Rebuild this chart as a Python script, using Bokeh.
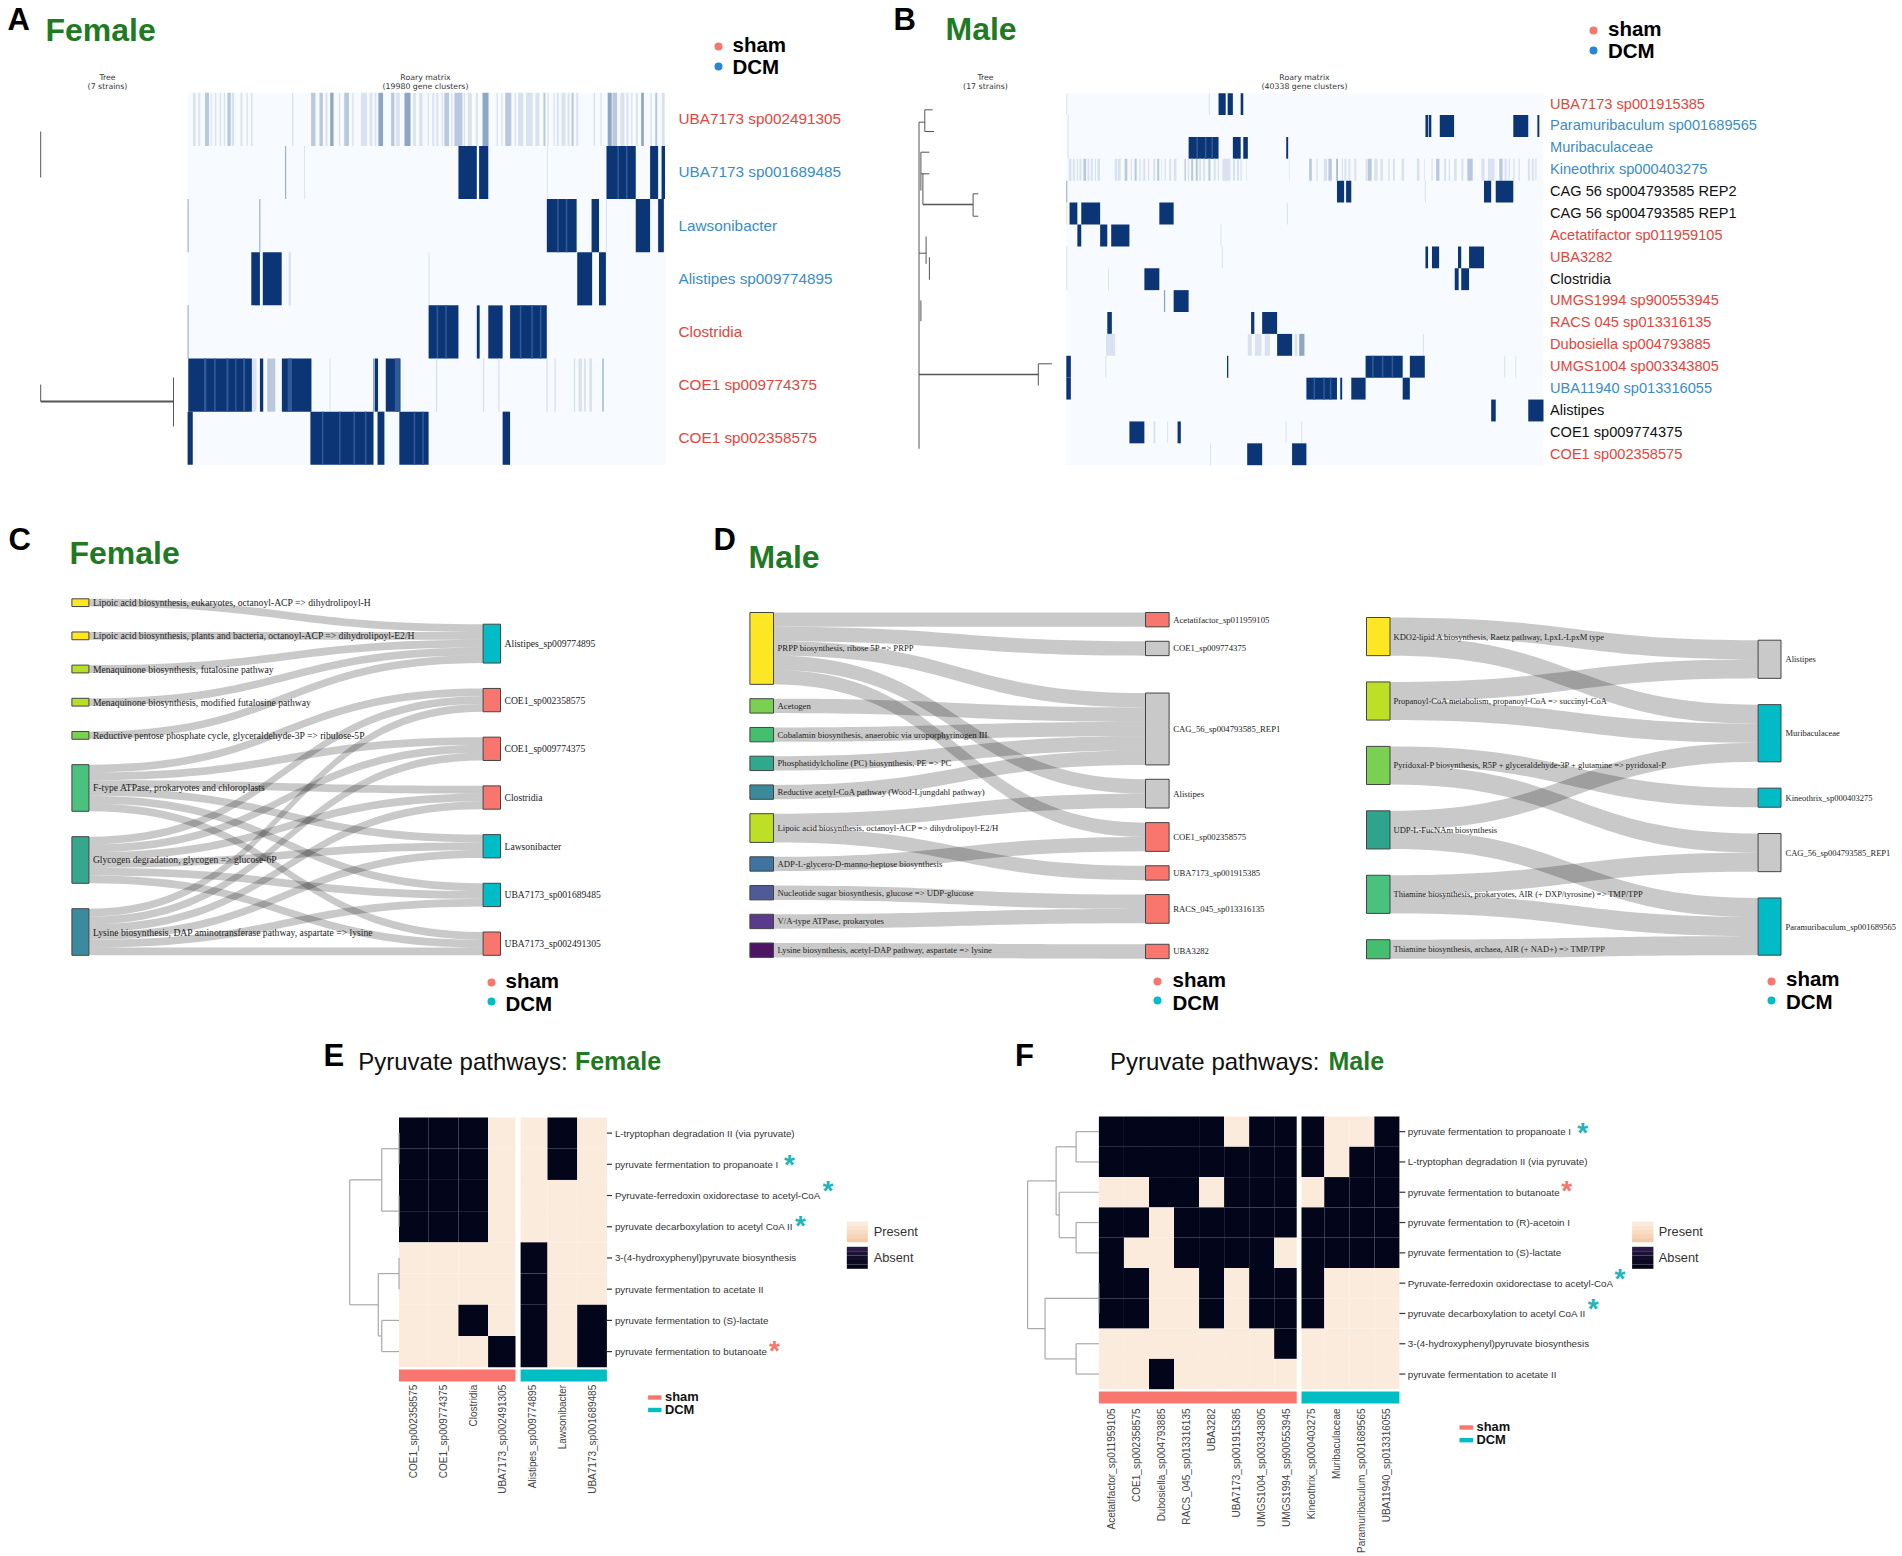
from math import pi
import numpy as np
from bokeh.core.properties import value
from bokeh.embed import file_html
from bokeh.models import Range1d
from bokeh.plotting import figure
from bokeh.resources import INLINE

# ---------------------------------------------------------------- data: Roary matrices
# Each row: dark blocks (first, last gene cluster) and pale stripes (first, last, level)
A_CLUSTERS = 19980
A_STRAINS = ["UBA7173 sp002491305", "UBA7173 sp001689485", "Lawsonibacter", "Alistipes sp009774895",
             "Clostridia", "COE1 sp009774375", "COE1 sp002358575"]
A_GROUP = ["sham", "DCM", "DCM", "DCM", "sham", "sham", "sham"]
A_DARK = [
    [],
    [(11328, 12096), (12192, 12576), (17520, 18744), (19344, 19680), (19824, 19968)],
    [(15024, 16272), (16896, 17208), (18744, 19344), (19680, 19920)],
    [(2664, 3024), (3144, 3936), (16296, 16920), (17208, 17496)],
    [(10080, 11328), (12096, 12216), (12576, 13176), (13488, 15024)],
    [(28, 2688), (3024, 3164), (3948, 5180), (7826, 7966), (8288, 8904)],
    [(0, 216), (5136, 7776), (7944, 8232), (8856, 10080), (13176, 13488)],
]
A_PALE = [
    [(224, 336, 1), (448, 532, 1), (728, 896, 2), (966, 1008, 1), (1148, 1204, 1), (1344, 1400, 1), (1512, 1568, 1),
     (1666, 1806, 2), (1848, 1946, 1), (2212, 2296, 1), (2464, 2520, 1), (2646, 2716, 1), (4368, 4424, 1),
     (5166, 5348, 2), (5516, 5656, 2), (5768, 5852, 1), (5964, 6104, 3), (6328, 6384, 1), (6552, 6748, 2),
     (6888, 6944, 1), (7252, 7504, 1), (7616, 7728, 1), (7826, 7896, 1), (7980, 8176, 3), (8512, 8652, 2),
     (8708, 8876, 1), (9072, 9324, 3), (9436, 9548, 1), (9688, 9828, 1), (10039, 10095, 1), (10235, 10319, 1),
     (10403, 10487, 1), (10627, 10683, 1), (10739, 10935, 2), (11019, 11075, 1), (11159, 11495, 2),
     (11551, 11607, 1), (11719, 11887, 1), (12055, 12139, 1), (12335, 12587, 3), (12923, 12979, 1),
     (13119, 13175, 1), (13287, 13539, 2), (13679, 13735, 1), (13819, 14043, 1), (14155, 14435, 1),
     (14547, 14715, 1), (14883, 14967, 2), (15051, 15107, 1), (15303, 15359, 1), (15443, 15527, 1),
     (15639, 15807, 1), (15891, 15975, 1), (16059, 16143, 2), (16255, 16339, 1), (16983, 17039, 1),
     (17263, 17319, 1), (17571, 17739, 3), (17767, 17963, 2), (18103, 18271, 1), (18355, 18439, 1),
     (18551, 18607, 1), (18747, 18831, 1), (18971, 19083, 3), (19363, 19419, 1), (19559, 19643, 2),
     (19839, 19951, 1)],
    [(4080, 4122, 3), (4872, 4914, 1), (15024, 15066, 1)],
    [(0, 42, 3), (3000, 3042, 3), (17496, 17538, 1)],
    [(4224, 4320, 1), (10080, 10122, 1)],
    [(0, 42, 3)],
    [(2688, 2884, 1), (3332, 3668, 2), (3906, 3976, 1), (5936, 5978, 1), (7756, 7812, 3), (10388, 10444, 1),
     (12348, 12404, 1), (12992, 13048, 1), (15008, 15064, 1), (15344, 15400, 1), (16156, 16212, 1),
     (16352, 16492, 1), (16576, 16660, 1), (16800, 16912, 1), (17332, 17416, 2)],
    [],
]
# lighter gene clusters seen inside the dark blocks: row -> (first, last)
A_STREAKS = {
    1: [(17976, 18040), (18336, 18400)],
    2: [(15456, 15520), (15816, 15880)],
    4: [(10416, 10480), (10776, 10840), (13896, 13960), (14376, 14440), (14736, 14800)],
    5: [(686, 784), (1106, 1176), (1624, 1708), (1988, 2044), (2324, 2408), (4186, 4368), (8666, 8876)],
    6: [(5616, 5680), (6336, 6400), (6936, 7000), (7416, 7480), (9456, 9520), (9816, 9880)],
}

B_CLUSTERS = 40338
B_STRAINS = ["UBA7173 sp001915385", "Paramuribaculum sp001689565", "Muribaculaceae", "Kineothrix sp000403275",
             "CAG 56 sp004793585 REP2", "CAG 56 sp004793585 REP1", "Acetatifactor sp011959105", "UBA3282",
             "Clostridia", "UMGS1994 sp900553945", "RACS 045 sp013316135", "Dubosiella sp004793885",
             "UMGS1004 sp003343805", "UBA11940 sp013316055", "Alistipes", "COE1 sp009774375", "COE1 sp002358575"]
B_GROUP = ["sham", "DCM", "DCM", "DCM", "none", "none", "sham", "sham", "none", "sham", "sham", "sham", "sham",
           "DCM", "none", "none", "sham"]
B_DARK = [
    [(12870, 13475), (13640, 14080), (14740, 14960)],
    [(30360, 30580), (30635, 30855), (31570, 32780), (37785, 39050), (39820, 39985)],
    [(10340, 12870), (14080, 14740), (14960, 15345), (18590, 18755)],
    [],
    [(22880, 23485), (23650, 24090), (35310, 35915), (36300, 37785)],
    [(275, 935), (1265, 2860), (7865, 9075)],
    [(935, 1265), (2860, 3465), (3795, 5335)],
    [(30360, 30580), (30910, 31515), (33110, 33385), (34045, 35310)],
    [(6600, 7865), (32835, 33165), (33385, 34045)],
    [(9075, 10340)],
    [(3465, 3850), (15620, 15895), (16555, 17820)],
    [(17820, 19085)],
    [(0, 385), (13585, 13695), (25300, 28435), (29040, 30305)],
    [(0, 385), (20295, 22880), (23155, 23320), (24090, 25300), (28435, 29040)],
    [(35915, 36300), (39050, 40338)],
    [(5335, 6600), (9405, 9680)],
    [(15290, 16555), (19085, 20295)],
]
B_PALE = [
    [(0, 84, 1), (12045, 12129, 1)],
    [(110, 194, 1)],
    [(110, 194, 1)],
    [(213, 438, 1), (550, 719, 1), (887, 1000, 1), (1112, 1281, 1), (1449, 1674, 2), (1787, 1955, 1), (2068, 2236, 1),
     (2405, 2517, 1), (2630, 2854, 1), (4091, 4316, 1), (4372, 4597, 1), (4934, 5159, 2), (5440, 5552, 1),
     (5777, 5945, 2), (6170, 6283, 1), (6507, 6676, 1), (6901, 7013, 1), (7350, 7519, 1), (7688, 7856, 2),
     (8025, 8081, 1), (8306, 8418, 1), (8699, 8868, 1), (9093, 9317, 1), (9992, 10104, 2), (10273, 10385, 1),
     (10554, 10722, 2), (10947, 11116, 2), (11228, 11397, 1), (11565, 11734, 1), (12015, 12184, 2),
     (12465, 12633, 1), (12802, 12914, 1), (13195, 13870, 1), (14094, 14263, 1), (14432, 14600, 1),
     (14713, 14825, 1), (15218, 15275, 1), (18815, 18871, 1), (20527, 20752, 2), (21145, 21258, 1),
     (21764, 22045, 1), (22157, 22438, 2), (22831, 22944, 3), (23281, 23393, 1), (23506, 23674, 1),
     (23843, 24012, 1), (24349, 24517, 1), (25304, 25417, 1), (25473, 25810, 2), (26035, 26316, 1),
     (26541, 26765, 1), (27215, 27327, 1), (27608, 27777, 1), (28339, 28564, 1), (29632, 29856, 1),
     (30250, 30306, 1), (30868, 30980, 1), (31261, 31542, 2), (31936, 32104, 1), (32329, 32442, 1),
     (32779, 33004, 1), (33397, 33566, 1), (33903, 34352, 2), (35083, 35364, 1), (35646, 36207, 1),
     (36600, 36881, 2), (37050, 37219, 1), (37387, 37500, 1), (37781, 37893, 1), (38230, 38343, 1),
     (39017, 39186, 1), (39354, 39523, 1), (39635, 39748, 1)],
    [(0, 84, 3), (30305, 30389, 1)],
    [(0, 84, 1), (18645, 18729, 1)],
    [(13035, 13119, 1)],
    [(0, 84, 1), (13145, 13229, 1)],
    [(0, 84, 1), (3520, 3604, 1)],
    [(8250, 8360, 3)],
    [],
    [(3355, 4125, 1), (15345, 15675, 1), (15950, 16500, 1), (16775, 17215, 1), (19305, 19525, 1), (19690, 20130, 3),
     (30140, 30224, 1)],
    [(3300, 3384, 1), (37015, 37099, 1), (37950, 38034, 1)],
    [],
    [],
    [(7370, 7535, 1), (8525, 8609, 1), (18535, 18619, 1), (19855, 19939, 1)],
    [(12155, 12239, 1)],
]
B_STREAKS = {
    2: [(11000, 11130), (11715, 11845), (12265, 12395)],
    12: [(25850, 25980), (26675, 26805), (27500, 27630)],
    13: [(20900, 21030), (21725, 21855), (22275, 22405)],
}

# ---------------------------------------------------------------- data: pathway-to-strain flows
C_SOURCES = ["Lipoic acid biosynthesis, eukaryotes, octanoyl-ACP => dihydrolipoyl-H",
             "Lipoic acid biosynthesis, plants and bacteria, octanoyl-ACP => dihydrolipoyl-E2/H",
             "Menaquinone biosynthesis, futalosine pathway",
             "Menaquinone biosynthesis, modified futalosine pathway",
             "Reductive pentose phosphate cycle, glyceraldehyde-3P => ribulose-5P",
             "F-type ATPase, prokaryotes and chloroplasts",
             "Glycogen degradation, glycogen => glucose-6P",
             "Lysine biosynthesis, DAP aminotransferase pathway, aspartate => lysine"]
C_SOURCE_COLORS = ["#fde725", "#fde725", "#b8de29", "#b8de29", "#7ad151", "#4ac17e", "#35a78e", "#3b8ba0"]
C_TARGETS = ["Alistipes_sp009774895", "COE1_sp002358575", "COE1_sp009774375", "Clostridia", "Lawsonibacter",
             "UBA7173_sp001689485", "UBA7173_sp002491305"]
C_TARGET_GROUP = ["DCM", "sham", "sham", "sham", "DCM", "DCM", "sham"]
C_LINKS = [(0, 0), (1, 0), (2, 0), (3, 0), (4, 0),
           (5, 1), (5, 2), (5, 3), (5, 4), (5, 5), (5, 6),
           (6, 1), (6, 2), (6, 3), (6, 4), (6, 5), (6, 6),
           (7, 1), (7, 2), (7, 3), (7, 4), (7, 5), (7, 6)]

D1_SOURCES = ["PRPP biosynthesis, ribose 5P => PRPP", "Acetogen",
              "Cobalamin biosynthesis, anaerobic via uroporphyrinogen III",
              "Phosphatidylcholine (PC) biosynthesis, PE => PC",
              "Reductive acetyl-CoA pathway (Wood-Ljungdahl pathway)",
              "Lipoic acid biosynthesis, octanoyl-ACP => dihydrolipoyl-E2/H",
              "ADP-L-glycero-D-manno-heptose biosynthesis",
              "Nucleotide sugar biosynthesis, glucose => UDP-glucose",
              "V/A-type ATPase, prokaryotes",
              "Lysine biosynthesis, acetyl-DAP pathway, aspartate => lysine"]
D1_SOURCE_COLORS = ["#fde725", "#7ad151", "#44bf70", "#2fa98c", "#3a8a9c", "#bddf26", "#3f74a0", "#4f5a96",
                    "#5a3a8f", "#4f1565"]
D1_TARGETS = ["Acetatifactor_sp011959105", "COE1_sp009774375", "CAG_56_sp004793585_REP1", "Alistipes",
              "COE1_sp002358575", "UBA7173_sp001915385", "RACS_045_sp013316135", "UBA3282"]
D1_TARGET_GROUP = ["sham", "none", "none", "none", "sham", "sham", "sham", "sham"]
D1_LINKS = [(0, 0), (0, 1), (0, 2), (0, 3), (0, 4), (1, 2), (2, 2), (3, 2), (4, 2), (5, 3), (5, 5), (6, 4),
            (7, 6), (8, 6), (9, 7)]

D2_SOURCES = ["KDO2-lipid A biosynthesis, Raetz pathway, LpxL-LpxM type",
              "Propanoyl-CoA metabolism, propanoyl-CoA => succinyl-CoA",
              "Pyridoxal-P biosynthesis, R5P + glyceraldehyde-3P + glutamine => pyridoxal-P",
              "UDP-L-FucNAm biosynthesis",
              "Thiamine biosynthesis, prokaryotes, AIR (+ DXP/tyrosine) => TMP/TPP",
              "Thiamine biosynthesis, archaea, AIR (+ NAD+) => TMP/TPP"]
D2_SOURCE_COLORS = ["#fde725", "#bddf26", "#7ad151", "#2fa48c", "#4ac17e", "#44bf70"]
D2_TARGETS = ["Alistipes", "Muribaculaceae", "Kineothrix_sp000403275", "CAG_56_sp004793585_REP1",
              "Paramuribaculum_sp001689565"]
D2_TARGET_GROUP = ["none", "DCM", "DCM", "none", "DCM"]
D2_LINKS = [(0, 0), (0, 1), (1, 0), (1, 1), (2, 2), (2, 3), (3, 1), (3, 4), (4, 3), (4, 4), (5, 4)]

# ---------------------------------------------------------------- data: presence / absence heatmaps (1 = absent)
E_COLS = ["COE1_sp002358575", "COE1_sp009774375", "Clostridia", "UBA7173_sp002491305",
          "Alistipes_sp009774895", "Lawsonibacter", "UBA7173_sp001689485"]
E_ROWS = ["L-tryptophan degradation II (via pyruvate)", "pyruvate fermentation to propanoate I",
          "Pyruvate-ferredoxin oxidorectase to acetyl-CoA", "pyruvate decarboxylation to acetyl CoA II",
          "3-(4-hydroxyphenyl)pyruvate biosynthesis", "pyruvate fermentation to acetate II",
          "pyruvate fermentation to (S)-lactate", "pyruvate fermentation to butanoate"]
E_ABSENT = [[1, 1, 1, 0, 0, 1, 0],
            [1, 1, 1, 0, 0, 1, 0],
            [1, 1, 1, 0, 0, 0, 0],
            [1, 1, 1, 0, 0, 0, 0],
            [0, 0, 0, 0, 1, 0, 0],
            [0, 0, 0, 0, 1, 0, 0],
            [0, 0, 1, 0, 1, 0, 1],
            [0, 0, 0, 1, 1, 0, 1]]
E_TREE = (1.0, (0.35, (0.0, 0, 1), (0.0, 2, 3)), (0.42, (0.0, 4, 5), (0.35, 6, 7)))

F_COLS = ["Acetatifactor_sp011959105", "COE1_sp002358575", "Dubosiella_sp004793885", "RACS_045_sp013316135",
          "UBA3282", "UBA7173_sp001915385", "UMGS1004_sp003343805", "UMGS1994_sp900553945",
          "Kineothrix_sp000403275", "Muribaculaceae", "Paramuribaculum_sp001689565", "UBA11940_sp013316055"]
F_ROWS = ["pyruvate fermentation to propanoate I", "L-tryptophan degradation II (via pyruvate)",
          "pyruvate fermentation to butanoate", "pyruvate fermentation to (R)-acetoin I",
          "pyruvate fermentation to (S)-lactate", "Pyruvate-ferredoxin oxidorectase to acetyl-CoA",
          "pyruvate decarboxylation to acetyl CoA II", "3-(4-hydroxyphenyl)pyruvate biosynthesis",
          "pyruvate fermentation to acetate II"]
F_ABSENT = [[1, 1, 1, 1, 1, 0, 1, 1, 1, 0, 0, 1],
            [1, 1, 1, 1, 1, 1, 1, 1, 1, 0, 1, 1],
            [0, 0, 1, 1, 0, 1, 1, 1, 0, 1, 1, 1],
            [1, 1, 0, 1, 1, 1, 1, 1, 1, 1, 1, 1],
            [1, 0, 0, 1, 1, 1, 1, 0, 1, 1, 1, 1],
            [1, 1, 0, 0, 1, 0, 1, 1, 1, 0, 0, 0],
            [1, 1, 0, 0, 1, 0, 1, 1, 1, 0, 0, 0],
            [0, 0, 0, 0, 0, 0, 0, 1, 0, 0, 0, 0],
            [0, 0, 1, 0, 0, 0, 0, 0, 0, 0, 0, 0]]
F_TREE = (1.0, (0.6, (0.32, 0, 1), (0.557, 2, (0.32, 3, 4))), (0.755, (0.0, 5, 6), (0.32, 7, 8)))

# ---------------------------------------------------------------- styles
GREEN = "#1f7a23"
ABSENT = "#03051a"
PRESENT = "#faebdd"
SALMON = "#f8766d"
CYAN = "#00bfc4"
GROUP_NODE = {"sham": "#f8766d", "DCM": "#00bcc6", "none": "#c9c9c9"}
LABEL_A = {"sham": "#e2453c", "DCM": "#3a8cc4", "none": "#111111"}
PALE_COLOR = {1: "#d9e2ee", 2: "#b9c8dc", 3: "#8ea5c3"}
DARK_BLUE = "#0c3576"
STREAK = "#2f5a98"
SANS, SERIF, DEJA = "Liberation Sans", "Liberation Serif", "DejaVu Sans"

p = figure(width=1902, height=1556, x_range=Range1d(0, 1902), y_range=Range1d(1556, 0),
           output_backend="svg", toolbar_location=None, min_border=0,
           x_axis_type=None, y_axis_type=None, outline_line_color=None)
p.grid.visible = False


def T(x, y, s, size, color="#000000", font=SANS, bold=False, align="left", base="middle", angle=0.0):
    p.text([x], [y], text=[s], text_font=value(font), text_font_size=f"{size}px", text_color=color,
           text_font_style="bold" if bold else "normal", text_align=align, text_baseline=base, angle=angle)


def seg(lines, color="#555555", width=1.0):
    p.segment([l[0] for l in lines], [l[1] for l in lines], [l[2] for l in lines], [l[3] for l in lines],
              line_color=color, line_width=width)


def box(l, r, t, b, color, line=None, lw=1.0, alpha=1.0):
    p.quad(left=l, right=r, top=t, bottom=b, fill_color=color, fill_alpha=alpha,
           line_color=line, line_width=lw)


def heading(letter, lx, ly, title, tx, ty):
    T(lx, ly, letter, 31, bold=True)
    T(tx, ty, title, 32, GREEN, bold=True)


def two_legend(dx, dy1, dy2, tx, ty1, ty2, dcm_color):
    p.scatter([dx, dx], [dy1, dy2], size=8, color=[SALMON, dcm_color], line_color=None)
    T(tx, ty1, "sham", 20.5, bold=True)
    T(tx, ty2, "DCM", 20.5, bold=True)


def roary(strains, groups, dark, pale, streaks, clusters, x0, x1, y0, y1, label_x, label_size):
    scale = (x1 - x0) / clusters
    h = (y1 - y0) / len(strains)
    box([x0], [x1], [y0], [y1], "#f7fbff")
    for i, name in enumerate(strains):
        top, bot = y0 + i * h, y0 + (i + 1) * h
        if pale[i]:
            box([x0 + a * scale for a, _, _ in pale[i]], [x0 + b * scale for _, b, _ in pale[i]],
                [top] * len(pale[i]), [bot] * len(pale[i]), [PALE_COLOR[c] for _, _, c in pale[i]])
        if dark[i]:
            box([x0 + a * scale for a, _ in dark[i]], [x0 + b * scale for _, b in dark[i]],
                [top] * len(dark[i]), [bot] * len(dark[i]), DARK_BLUE)
        if i in streaks:
            box([x0 + a * scale for a, _ in streaks[i]], [x0 + b * scale for _, b in streaks[i]],
                [top] * len(streaks[i]), [bot] * len(streaks[i]), STREAK)
        T(label_x, (top + bot) / 2 - 0.6, name, label_size, LABEL_A[groups[i]])


def sankey(sources, s_colors, targets, t_group, links, sx0, sx1, tx0, tx1, s_top, t_top, unit, s_gaps, t_gaps,
           s_label, t_label, fsize):
    s_val = [sum(1 for a, _ in links if a == i) for i in range(len(sources))]
    t_val = [sum(1 for _, b in links if b == i) for i in range(len(targets))]
    s_y, t_y, y = [], [], s_top
    for i, v in enumerate(s_val):
        s_y.append(y)
        y += v * unit + (s_gaps[i] if i < len(s_gaps) else 0)
    y = t_top
    for i, v in enumerate(t_val):
        t_y.append(y)
        y += v * unit + (t_gaps[i] if i < len(t_gaps) else 0)
    s_off, t_off = list(s_y), list(t_y)
    t_ = np.linspace(0, 1, 40)
    xm = (sx1 + tx0) / 2
    bx = (1 - t_) ** 3 * sx1 + 3 * (1 - t_) ** 2 * t_ * xm + 3 * (1 - t_) * t_ ** 2 * xm + t_ ** 3 * tx0
    by = 3 * (1 - t_) * t_ ** 2 + t_ ** 3
    xs, ys = [], []
    for a, b in links:
        y_a, y_b = s_off[a], t_off[b]
        s_off[a] += unit
        t_off[b] += unit
        up = y_a + (y_b - y_a) * by
        xs.append(list(bx) + list(bx[::-1]))
        ys.append(list(up) + list((up + unit)[::-1]))
    p.patches(xs, ys, fill_color="#000000", fill_alpha=0.21, line_color=None)
    box([sx0] * len(sources), [sx1] * len(sources), s_y, [y_ + v * unit for y_, v in zip(s_y, s_val)], s_colors,
        line="#444444", lw=1.0)
    box([tx0] * len(targets), [tx1] * len(targets), t_y, [y_ + v * unit for y_, v in zip(t_y, t_val)],
        [GROUP_NODE[g] for g in t_group], line="#444444", lw=1.0)
    for n, y_, v in zip(sources, s_y, s_val):
        T(s_label, y_ + v * unit / 2, n, fsize, "#222222", SERIF)
    for n, y_, v in zip(targets, t_y, t_val):
        T(t_label, y_ + v * unit / 2, n, fsize, "#222222", SERIF)


def dendro(tree, edge, full, first_y, row_h, out):
    """Draws a hierarchical tree whose root height (1.0) sits `full` px left of the heatmap."""
    if isinstance(tree, int):
        return edge, first_y + (tree + 0.5) * row_h
    h, a, b = tree
    x = edge - h * full
    xa, ya = dendro(a, edge, full, first_y, row_h, out)
    xb, yb = dendro(b, edge, full, first_y, row_h, out)
    out += [(x, ya, x, yb), (x, ya, xa, ya), (x, yb, xb, yb)]
    return x, (ya + yb) / 2


def heat(cols, rows, absent, tree, x0, x1, gap0, gap1, y0, y1, bar0, bar1, col_top, tick_end, row_x, full):
    cw, rh = (x1 - x0) / len(cols), (y1 - y0) / len(rows)
    L, R, TT, B, C = [], [], [], [], []
    for i, row in enumerate(absent):
        for j, v in enumerate(row):
            L.append(x0 + j * cw); R.append(x0 + (j + 1) * cw)
            TT.append(y0 + i * rh); B.append(y0 + (i + 1) * rh)
            C.append(ABSENT if v else PRESENT)
    box(L, R, TT, B, C)
    box([gap0], [gap1], [y0 - 1], [y1 + 1], "#ffffff")
    box([x0, gap1], [gap0, x1], [bar0, bar0], [bar1, bar1], [SALMON, "#00bec4"])
    seg([(x1, y0 + (i + 0.5) * rh, tick_end, y0 + (i + 0.5) * rh) for i in range(len(rows))], "#333333", 1.2)
    for i, r in enumerate(rows):
        T(row_x, y0 + (i + 0.5) * rh, r, 9.8, "#333333")
    for j, c in enumerate(cols):
        cx = x0 + (j + 0.5) * cw
        T(cx, col_top, c, 10, "#444444", align="right", angle=pi / 2)
    lines = []
    dendro(tree, x0, full, y0, rh, lines)
    seg(lines, "#a9a9a9", 1.2)


def star(x, y, color):
    T(x, y + 4, "*", 28, color, align="center", bold=True)


def heat_legend(x0, x1, lx, bx0, bx1, btx, by1, by2, bty1, bty2):
    pres = ["#fbeadc", "#fae3d0", "#f9dcc5", "#f8d3b8", "#f6c9a8"]
    abse = ["#2a1a45", "#1d1236", "#130d29", "#0b0820", "#03051a"]
    for k in range(5):
        box([x0], [x1], [1221 + k * 4.15], [1221 + (k + 1) * 4.15], pres[k])
        box([x0], [x1], [1246.3 + k * 4.4], [1246.3 + (k + 1) * 4.4], abse[k])
    T(lx, 1231, "Present", 12.8, "#333333")
    T(lx, 1257, "Absent", 12.8, "#333333")
    box([bx0], [bx1], [by1 - 2.2], [by1 + 2.2], SALMON)
    box([bx0], [bx1], [by2 - 2.2], [by2 + 2.2], "#00bec4")
    T(btx, bty1, "sham", 12.9, "#111111", bold=True)
    T(btx, bty2, "DCM", 12.9, "#111111", bold=True)


# ---------------------------------------------------------------- panel A
heading("A", 7, 19, "Female", 45, 29.5)
two_legend(718, 46, 66, 732, 44, 66, "#2a86d2")
T(107, 77, "Tree", 7.8, "#333333", DEJA, align="center")
T(107, 86, "(7 strains)", 7.8, "#333333", DEJA, align="center")
T(425, 77, "Roary matrix", 7.8, "#333333", DEJA, align="center")
T(425, 86, f"({A_CLUSTERS} gene clusters)", 7.8, "#333333", DEJA, align="center")
seg([(40.2, 131, 40.2, 177), (40.2, 384, 40.2, 401), (173, 377, 173, 426)], "#555555", 1)
seg([(40.2, 401, 173, 401)], "#555555", 1.8)
roary(A_STRAINS, A_GROUP, A_DARK, A_PALE, A_STREAKS, A_CLUSTERS, 187.1, 664.8, 92.3, 464.3, 678, 15.3)

# ---------------------------------------------------------------- panel B
heading("B", 893, 19, "Male", 945, 28)
two_legend(1593, 30, 50, 1607.5, 28, 50, "#2a86d2")
T(985, 77, "Tree", 7.8, "#333333", DEJA, align="center")
T(985, 86, "(17 strains)", 7.8, "#333333", DEJA, align="center")
T(1304, 77, "Roary matrix", 7.8, "#333333", DEJA, align="center")
T(1304, 86, f"({B_CLUSTERS} gene clusters)", 7.8, "#333333", DEJA, align="center")
seg([(918.5, 121.7, 918.5, 448.3), (1037.8, 363.3, 1037.8, 385), (1037.8, 363.3, 1051.4, 363.3),
     (918.5, 121.7, 924.3, 121.7), (924.3, 109.3, 924.3, 131), (924.3, 109.3, 932.2, 109.3),
     (924.3, 131, 933.5, 131), (920.4, 151.7, 928.9, 151.7), (920.4, 151.7, 920.4, 190),
     (920.4, 173.3, 928.9, 173.3), (922.4, 173.3, 922.4, 204), (972.6, 193.3, 972.6, 215.7),
     (972.6, 193.3, 977.8, 193.3), (972.6, 215.7, 977.8, 215.7), (925.6, 236, 925.6, 263.3),
     (918.5, 252.7, 925.6, 252.7), (928.9, 256.7, 928.9, 279.3), (920.4, 300, 920.4, 320.7)], "#555555", 1)
seg([(918.5, 374, 1037.8, 374), (922.4, 204, 972.6, 204)], "#555555", 1.6)
roary(B_STRAINS, B_GROUP, B_DARK, B_PALE, B_STREAKS, B_CLUSTERS, 1065.8, 1543, 92.7, 464.7, 1549.5, 14.6)

# ---------------------------------------------------------------- panel C
heading("C", 8, 539, "Female", 69, 552)
sankey(C_SOURCES, C_SOURCE_COLORS, C_TARGETS, C_TARGET_GROUP, C_LINKS, 71.4, 88.4, 482.6, 500, 598.3, 623.7, 7.77,
       [25.4] * 7, [25.4] * 6, 92.4, 504, 9.65)
two_legend(491, 982, 1001, 505, 980, 1003, CYAN)

# ---------------------------------------------------------------- panel D
heading("D", 713, 539, "Male", 748, 556)
sankey(D1_SOURCES, D1_SOURCE_COLORS, D1_TARGETS, D1_TARGET_GROUP, D1_LINKS, 749.4, 773, 1145, 1168.6, 612, 612,
       14.37, [14.37] * 9, [14.4, 37.4, 14.4, 14.6, 14.4, 14.4, 21], 777, 1172.7, 8.7)
two_legend(1157, 981, 1000, 1172, 979, 1002, CYAN)
sankey(D2_SOURCES, D2_SOURCE_COLORS, D2_TARGETS, D2_TARGET_GROUP, D2_LINKS, 1366, 1389.5, 1757.6, 1780.5, 617, 639.7,
       19.07, [26.3] * 5, [26.3] * 4, 1393, 1785, 8.5)
two_legend(1771, 981, 1000, 1785.5, 978, 1001, CYAN)

# ---------------------------------------------------------------- panel E
T(323, 1054.5, "E", 31, bold=True)
T(357.7, 1060.5, "Pyruvate pathways: ", 24, "#111111")
T(574.4, 1060.5, "Female", 25, GREEN, bold=True)
heat(E_COLS, E_ROWS, E_ABSENT, E_TREE, 398.5, 606.4, 515, 520.1, 1117, 1366.7, 1369, 1381, 1384.3, 611.5, 614.4, 49.3)
star(789, 1160, "#1fb5bc"); star(827.4, 1185.7, "#1fb5bc"); star(800, 1221, "#1fb5bc"); star(773.9, 1346, SALMON)
heat_legend(846.3, 867.3, 873.2, 647.6, 661, 664.5, 1397, 1409.5, 1396.3, 1409.3)

# ---------------------------------------------------------------- panel F
T(1014.5, 1054.5, "F", 31, bold=True)
T(1109.5, 1060.5, "Pyruvate pathways: ", 24, "#111111")
T(1328, 1060.5, "Male", 25, GREEN, bold=True)
heat(F_COLS, F_ROWS, F_ABSENT, F_TREE, 1098.4, 1398.9, 1296.2, 1301, 1116, 1388.7, 1391, 1403, 1408, 1404.8, 1407.2, 71.3)
star(1582.2, 1127.7, "#1fb5bc"); star(1566.2, 1186, SALMON); star(1619.5, 1274.3, "#1fb5bc"); star(1592.8, 1304.3, "#1fb5bc")
heat_legend(1631.6, 1652.9, 1658.3, 1459, 1472.6, 1476, 1427, 1439.7, 1426.3, 1439.3)

open("out.html", "w").write(file_html(p, INLINE))
